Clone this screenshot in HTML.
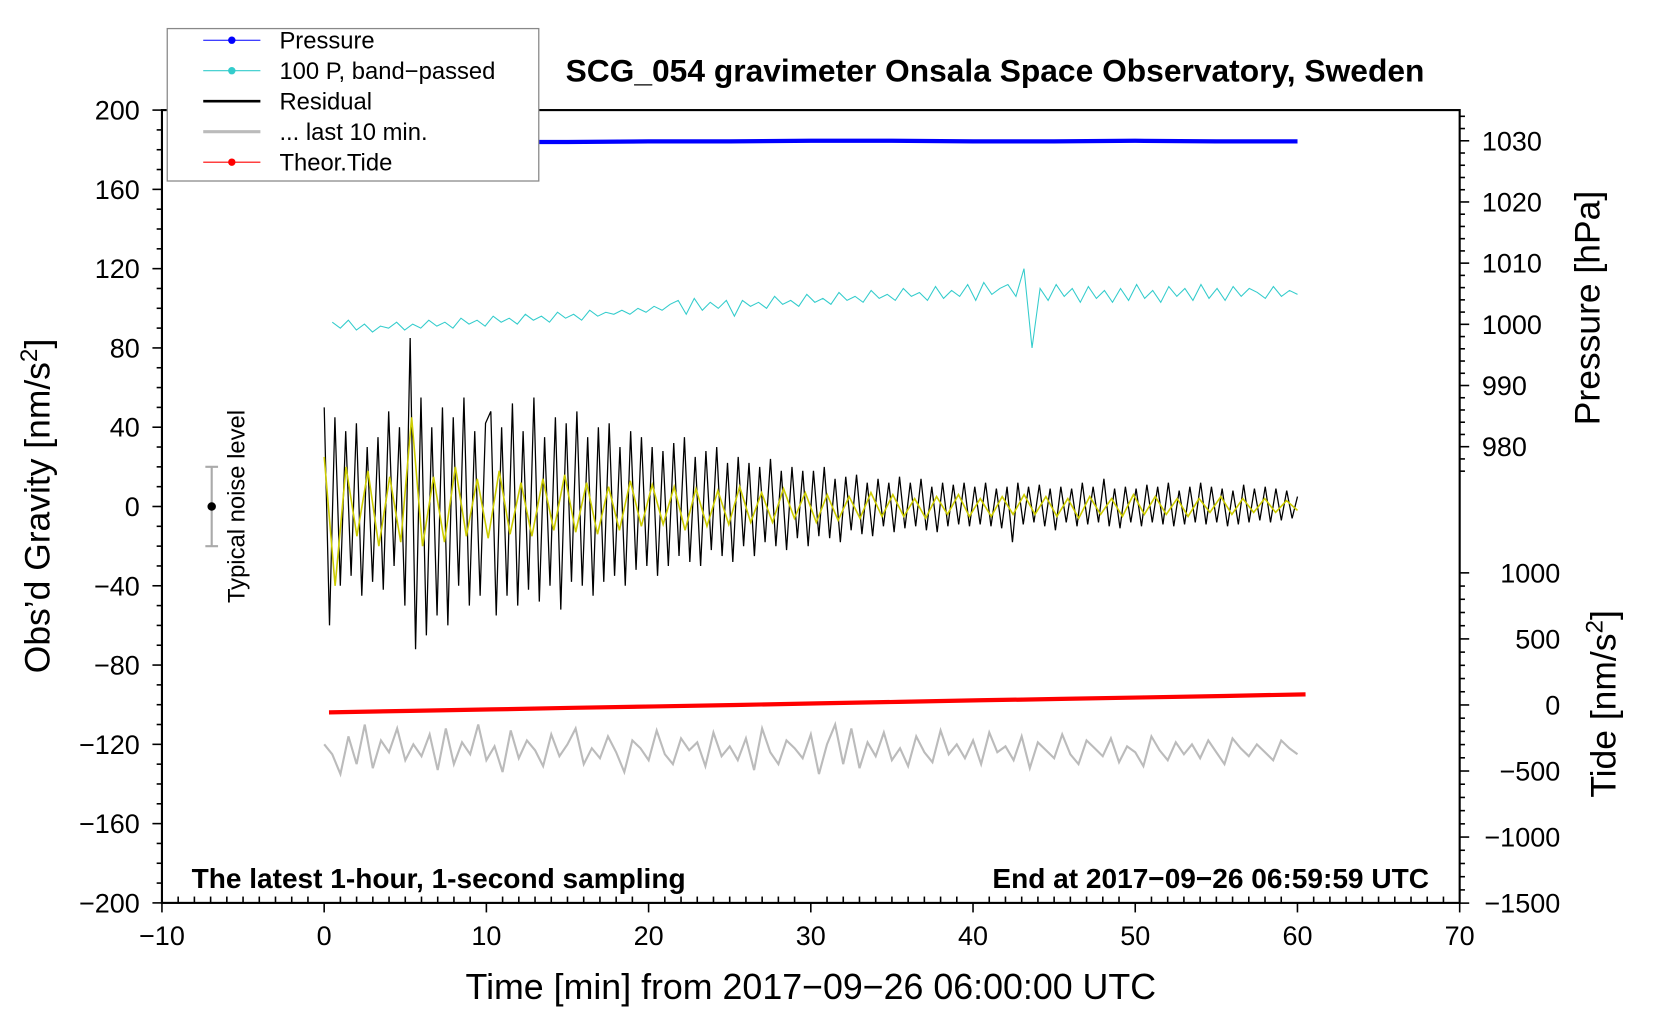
<!DOCTYPE html>
<html><head><meta charset="utf-8"><style>
body{margin:0;background:#fff}
svg text{font-family:"Liberation Sans",sans-serif;fill:#000}
</style></head><body>
<svg id="c" width="1660" height="1020" xmlns="http://www.w3.org/2000/svg"><g id="g" transform="scale(1.0585)"></g></svg>
<script>
const xTicks=[-10,0,10,20,30,40,50,60,70];
const gTicks=[200,160,120,80,40,0,-40,-80,-120,-160,-200];
const pTicks=[1030,1020,1010,1000,990,980];
const tTicks=[1000,500,0,-500,-1000,-1500];
const pressure=[1029.6,1029.7,1029.8,1029.8,1029.9,1029.9,1030.0,1030.0,1029.9,1029.9,1030.0,1029.9,1029.9];
const tide=[-56,-45,-34,-22,-11,0,12,23,35,46,57,68,80];
const residual=[50,-60,45,-40,38,-35,42,-45,30,-38,35,-42,48,-30,40,-50,
85,-72,55,-65,40,-55,50,-60,45,-40,55,-50,38,-45,42,
48,-55,40,-45,52,-50,38,-42,55,-48,35,-40,45,-52,42,-38,48,-40,35,-45,40,-38,42,-35,30,-40,38,-32,35,-30,
30,-35,28,-30,32,-25,35,-28,25,-30,28,-22,30,-25,22,-28,25,-20,22,-25,20,-18,24,-20,18,-22,20,-16,18,-20,
18,-15,20,-16,14,-18,15,-12,16,-14,12,-15,14,-10,12,-13,15,-11,12,-10,14,-12,10,-13,12,-10,11,-9,12,-10,
10,-9,12,-10,9,-11,10,-18,12,-9,10,-8,11,-10,9,-12,10,-8,9,-10,12,-9,10,-8,14,-10,9,-11,10,-8,
9,-10,11,-8,10,-9,12,-10,8,-9,10,-8,12,-9,10,-8,9,-10,8,-9,11,-8,9,-7,10,-8,9,-7,8,-6,5];
const smoothed=[25,-40,20,-15,18,-20,15,-18,45,-20,15,-18,20,-15,14,-16,18,-14,12,-15,14,-12,16,-13,12,-14,10,-12,13,-10,11,-9,10,-12,9,-10,8,-9,10,-8,7,-8,9,-6,7,-8,6,-7,5,-6,7,-5,6,-5,4,-6,5,-4,6,-5,4,-5,5,-4,6,-4,5,-5,4,-6,5,-4,4,-5,6,-4,5,-4,4,-5,4,-3,5,-4,4,-3,4,-3,3,-2];
const bandP=[93,90,94,89,92,88,91,90,93,89,92,90,94,91,93,90,95,92,94,91,96,93,95,92,97,94,96,93,98,95,97,94,99,96,98,97,99,97,100,98,101,99,102,104,97,105,99,103,100,104,96,104,101,103,100,106,102,104,101,107,103,105,102,108,104,106,103,109,105,107,104,110,106,108,104,111,105,109,106,112,104,113,107,110,112,106,120,80,110,104,112,106,110,103,111,105,109,103,110,104,112,105,109,103,111,106,110,104,112,105,110,104,111,106,110,108,105,111,106,109,107];
const lastTen=[-120,-125,-135,-116,-130,-110,-132,-118,-124,-112,-128,-120,-126,-115,-133,-112,-130,-119,-125,-110,-128,-121,-134,-113,-127,-118,-123,-131,-115,-126,-120,-112,-130,-122,-127,-116,-124,-134,-118,-122,-128,-113,-125,-130,-117,-123,-119,-131,-114,-126,-121,-128,-117,-133,-112,-124,-130,-118,-122,-127,-115,-135,-120,-110,-130,-112,-132,-119,-126,-114,-128,-122,-131,-116,-124,-129,-113,-125,-120,-127,-118,-130,-114,-124,-121,-128,-116,-132,-119,-123,-127,-115,-125,-130,-118,-122,-126,-117,-129,-121,-124,-131,-116,-123,-128,-119,-125,-120,-127,-118,-124,-130,-117,-122,-126,-120,-124,-128,-118,-122,-125];

const NS="http://www.w3.org/2000/svg";
const svg=document.getElementById('g');
const X=v=>153+(v+10)*15.325;
const Y=v=>853-(v+200)*1.8725;
const YP=v=>133+(1030-v)*5.78;
const YT=v=>666-v*0.1248;
function el(t,a,txt){const e=document.createElementNS(NS,t);for(const k in a)e.setAttribute(k,a[k]);if(txt!==undefined)e.textContent=txt;svg.appendChild(e);return e;}
function series(arr,x0,x1,yf,style){let d='';arr.forEach((v,i)=>{const x=X(x0+i*(x1-x0)/(arr.length-1));d+=(i?'L':'M')+x.toFixed(1)+','+yf(v).toFixed(1);});const p=el('path',Object.assign({d:d,fill:'none'},style));return p;}

let f=el('rect',{x:153,y:104,width:1226,height:749,fill:'none',stroke:'#000','stroke-width':2});

for(let v=-10;v<=70;v++){const l=el('line',{x1:X(v),x2:X(v),y1:853,y2:v%10===0?862:847,stroke:'#000','stroke-width':1.5});}
xTicks.forEach(v=>{const t=el('text',{x:X(v),y:893,'font-size':25.5,'text-anchor':'middle'},(v<0?'\u2212':'')+Math.abs(v));});
for(let v=-200;v<=200;v+=10){const l=el('line',{x1:v%40===0?144:148,x2:153,y1:Y(v),y2:Y(v),stroke:'#000','stroke-width':1.5});}
gTicks.forEach(v=>{const t=el('text',{x:132,y:Y(v)+9,'font-size':25.5,'text-anchor':'end'},(v<0?'\u2212':'')+Math.abs(v));});
for(let v=976;v<=1034;v+=2){const l=el('line',{x1:1379,x2:v%10===0?1388:1384,y1:YP(v),y2:YP(v),stroke:'#000','stroke-width':1.5});}
pTicks.forEach(v=>{const t=el('text',{x:1400,y:YP(v)+9,'font-size':25.5},String(v));});
for(let v=-1500;v<=1000;v+=100){const l=el('line',{x1:1379,x2:v%500===0?1388:1384,y1:YT(v),y2:YT(v),stroke:'#000','stroke-width':1.5});}
tTicks.forEach(v=>{const t=el('text',{x:1474,y:YT(v)+9,'font-size':25.5,'text-anchor':'end'},(v<0?'\u2212':'')+Math.abs(v));});

let s;
s=series(pressure,0,60,YP,{stroke:'#0000ff','stroke-width':4});
s=series(bandP,0.5,60,Y,{stroke:'#33cccc','stroke-width':1});
s=series(residual,0,60,Y,{stroke:'#000','stroke-width':1.2});
s=series(smoothed,0,60,Y,{stroke:'#cccc00','stroke-width':1.5});
s=series(tide,0.3,60.5,YT,{stroke:'#ff0000','stroke-width':4});
s=series(lastTen,0,60,Y,{stroke:'#bbbbbb','stroke-width':2});

let nb=el('path',{d:`M200,${Y(20)}V${Y(-20)}M194,${Y(20)}H206M194,${Y(-20)}H206`,stroke:'#aaa','stroke-width':2,fill:'none'});
let nd=el('circle',{cx:200,cy:Y(0),r:4,fill:'#000'});
let nt=el('text',{x:0,y:0,'font-size':22.5,'text-anchor':'middle',transform:`translate(231,${Y(0)}) rotate(-90)`},'Typical noise level');

let t;
t=el('text',{x:940,y:77,'font-size':30,'font-weight':'bold','text-anchor':'middle'},'SCG_054 gravimeter Onsala Space Observatory, Sweden');
t=el('text',{x:181,y:839,'font-size':26.5,'font-weight':'bold'},'The latest 1-hour, 1-second sampling');
t=el('text',{x:1350,y:839,'font-size':26.5,'font-weight':'bold','text-anchor':'end'},'End at 2017\u221209\u221226 06:59:59 UTC');
t=el('text',{x:766,y:944,'font-size':33.8,'text-anchor':'middle'},'Time [min] from 2017\u221209\u221226 06:00:00 UTC');
t=el('text',{x:0,y:0,'font-size':33.5,'text-anchor':'middle',transform:'translate(47,478) rotate(-90)'});t.innerHTML='Obs\u2019d Gravity [nm/s<tspan dy="-12" font-size="23">2</tspan><tspan dy="12">]</tspan>';
t=el('text',{x:0,y:0,'font-size':33.5,'text-anchor':'middle',transform:'translate(1511,291) rotate(-90)'},'Pressure [hPa]');
t=el('text',{x:0,y:0,'font-size':33.5,'text-anchor':'middle',transform:'translate(1526,665) rotate(-90)'});t.innerHTML='Tide [nm/s<tspan dy="-12" font-size="23">2</tspan><tspan dy="12">]</tspan>';

let lg=el('rect',{x:158,y:27,width:351,height:144,fill:'#fff',stroke:'#888','stroke-width':1.2});
const leg=[['Pressure','#0000ff',1,true],['100 P, band\u2212passed','#33cccc',1,true],['Residual','#000',2.5,false],['... last 10 min.','#bbbbbb',3,false],['Theor.Tide','#ff0000',1,true]];
leg.forEach((r,i)=>{const y=38+i*28.8;
 const l=el('line',{x1:192,x2:246,y1:y,y2:y,stroke:r[1],'stroke-width':r[2]});
 if(r[3]){const c=el('circle',{cx:219,cy:y,r:3.5,fill:r[1]});}
 const tx=el('text',{x:264,y:y+8,'font-size':22.5},r[0]);});
</script>
</body></html>
